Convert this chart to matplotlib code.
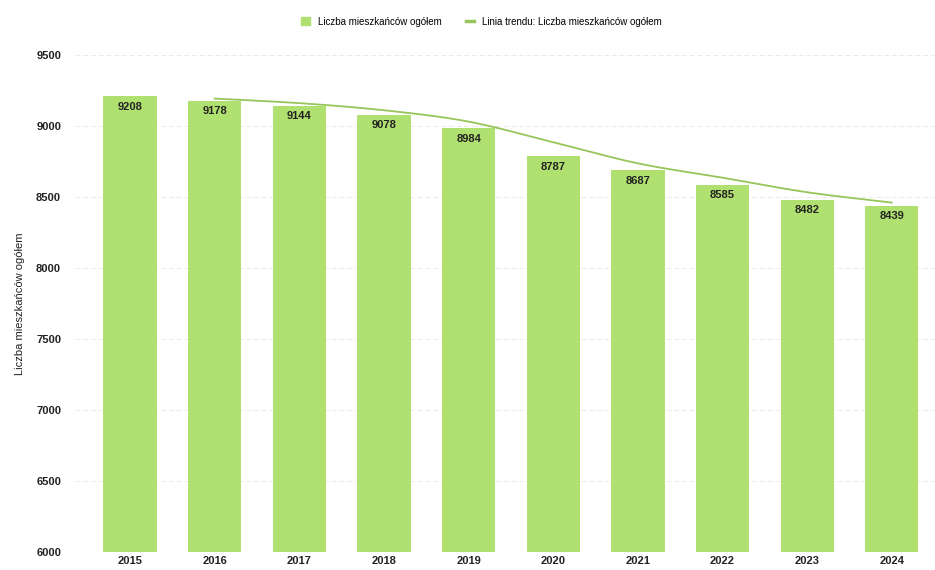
import numpy as np
import pandas as pd
import matplotlib.pyplot as plt
from matplotlib.lines import Line2D
from matplotlib.patches import Patch

# dane
years = [2015, 2016, 2017, 2018, 2019, 2020, 2021, 2022, 2023, 2024]
population = [9208, 9178, 9144, 9078, 8984, 8787, 8687, 8585, 8482, 8439]

bar_color = "#b0e070"
trend_color = "#96c65a"

plt.rcParams['font.family'] = ['Liberation Sans', 'DejaVu Sans']


# gładka krzywa przez punkty (Catmull-Rom), tylko do rysowania
def smooth(px, py, n=20):
    px = np.asarray(px, float)
    py = np.asarray(py, float)
    P = np.column_stack([px, py])
    P = np.vstack([2 * P[0] - P[1], P, 2 * P[-1] - P[-2]])
    out = []
    t = np.linspace(0, 1, n, endpoint=False)[:, None]
    for i in range(1, len(P) - 2):
        p0, p1, p2, p3 = P[i - 1], P[i], P[i + 1], P[i + 2]
        seg = 0.5 * ((2 * p1) + (-p0 + p2) * t + (2 * p0 - 5 * p1 + 4 * p2 - p3) * t ** 2
                     + (-p0 + 3 * p1 - 3 * p2 + p3) * t ** 3)
        out.append(seg)
    out.append(P[-2][None, :])
    out = np.vstack(out)
    return out[:, 0], out[:, 1]


fig = plt.figure(figsize=(9.35, 5.7), dpi=100)
ax = fig.add_axes([0.0802, 0.0316, 0.9198, 0.8719])

x = np.arange(len(years))
ax.bar(x, population, width=0.63, color=bar_color, zorder=2)

# linia trendu - średnia ruchoma (2 okresy)
trend = pd.Series(population).rolling(2).mean()
sx, sy = smooth(x[1:], trend[1:].values)
ax.plot(sx, sy, color=trend_color, lw=1.3, zorder=3)

# etykiety wartości
for xi, v in zip(x, population):
    ax.text(xi, v - 38, str(v), ha="center", va="top", fontsize=8,
            fontweight="bold", color="#222222", zorder=4)

ax.set_ylim(6000, 9500)
ax.set_xlim(-0.65, 9.51)
ax.set_yticks(range(6000, 9501, 500))
ax.set_xticks(x)
ax.set_xticklabels([str(y) for y in years])
ax.tick_params(axis="both", length=0, labelsize=8, colors="#222222")
for lab in ax.get_xticklabels() + ax.get_yticklabels():
    lab.set_fontweight("bold")
ax.tick_params(axis="y", pad=10)
ax.tick_params(axis="x", pad=3)
ax.grid(axis="y", color="#ebebeb", lw=0.7, ls=(0, (5, 3)), zorder=0)
for s in ax.spines.values():
    s.set_visible(False)

ax.set_ylabel("Liczba mieszkańców ogółem", fontsize=8, color="#222222", labelpad=8)

handles = [Patch(color=bar_color),
           Line2D([0], [0], color=trend_color, lw=2.5)]
labels = ["Liczba mieszkańców ogółem", "Linia trendu: Liczba mieszkańców ogółem"]
fig.legend(handles, labels, loc="center", bbox_to_anchor=(0.515, 0.962), ncol=2,
           frameon=False, fontsize=7, handlelength=0.9, handleheight=0.9,
           columnspacing=2.5, handletextpad=0.8)

fig.savefig("out.png", dpi=100)
